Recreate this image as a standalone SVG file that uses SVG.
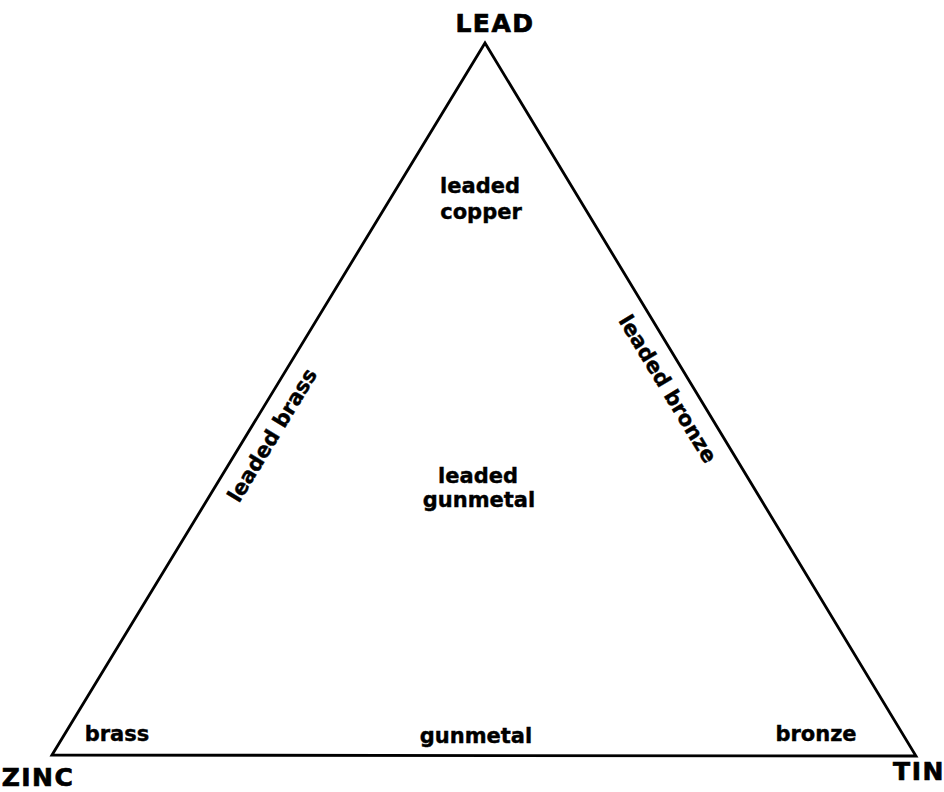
<svg xmlns="http://www.w3.org/2000/svg" width="944" height="792" viewBox="0 0 944 792">
<style>
.lbl{font-family:"DejaVu Sans","Liberation Sans",sans-serif;font-weight:bold;font-size:21px;fill:#000;stroke:#000;stroke-width:0.4;text-anchor:middle}
.vtx{font-family:"DejaVu Sans","Liberation Sans",sans-serif;font-weight:bold;font-size:25px;fill:#000;stroke:#000;stroke-width:0.7;text-anchor:middle;letter-spacing:1.5px}
.edge{fill:none;stroke:#000;stroke-width:2.8;stroke-linejoin:miter}
</style>
<rect width="944" height="792" fill="#fff"/>
<g id="connectors">
<path class="edge" d="M52 755 L485 43 L916 756 Z"/>
</g>
<g id="lead"><text class="vtx" x="495" y="32">LEAD</text></g>
<g id="zinc"><text class="vtx" x="38" y="786">ZINC</text></g>
<g id="tin"><text class="vtx" x="919" y="780">TIN</text></g>
<g id="leaded-copper"><text class="lbl" x="480" y="193">leaded</text><text class="lbl" x="481" y="219">copper</text></g>
<g id="leaded-gunmetal"><text class="lbl" x="478" y="483">leaded</text><text class="lbl" x="479" y="507">gunmetal</text></g>
<g id="brass"><text class="lbl" x="117" y="741">brass</text></g>
<g id="gunmetal"><text class="lbl" x="476" y="743">gunmetal</text></g>
<g id="bronze"><text class="lbl" x="816" y="741">bronze</text></g>
<g id="leaded-brass"><text class="lbl" transform="translate(253.6,423.9) rotate(-58.7)" x="0" y="29">leaded brass</text></g>
<g id="leaded-bronze"><text class="lbl" transform="translate(686.9,377.3) rotate(58.8)" x="0" y="29.5">leaded bronze</text></g>
</svg>
